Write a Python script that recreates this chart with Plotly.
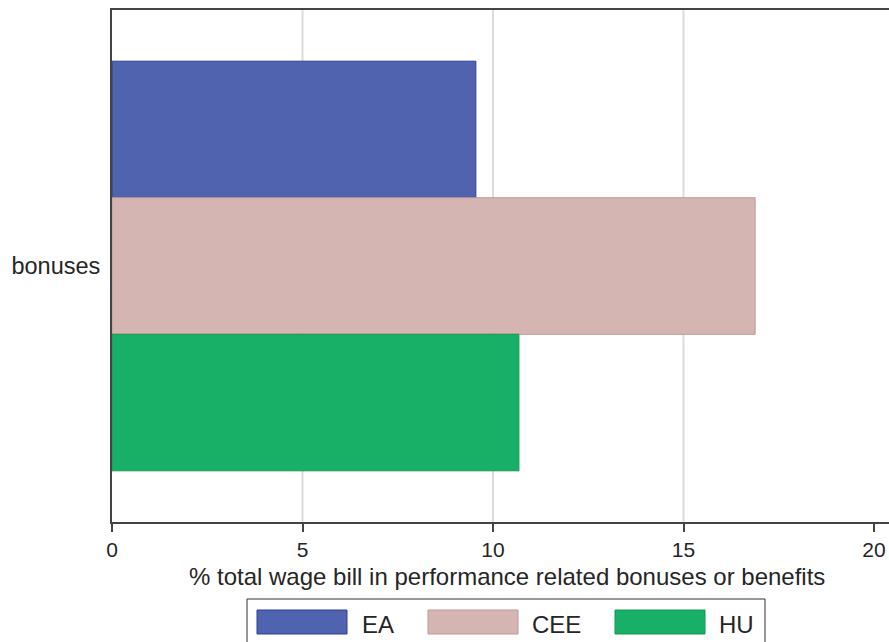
import plotly.graph_objects as go

categories = ["bonuses"]
series_names = ["EA", "CEE", "HU"]
ea_values = [9.55]
cee_values = [16.88]
hu_values = [10.68]
x_ticks = [0, 5, 10, 15, 20]
x_title = "% total wage bill in performance related bonuses or benefits"

fill_colors = ["#4f63ae", "#d5b5b2", "#18b066"]
line_colors = ["#2f3f9c", "#c29797", "#12994f"]

W, H = 889, 642
S_LEFT, S_TOP, S_BOTTOM, S_RIGHT = 112, 10, 522, 889
S_20 = 874
L = S_LEFT
T = S_TOP
B = H - S_BOTTOM
R = W - S_RIGHT
x_max = 20 * (S_RIGHT - S_LEFT) / (S_20 - S_LEFT)

fig = go.Figure()
for name, vals, fc, lc in zip(series_names, [ea_values, cee_values, hu_values], fill_colors, line_colors):
    fig.add_trace(go.Bar(
        y=categories, x=vals, name=name, orientation="h",
        marker=dict(color=fc, line=dict(color=lc, width=1)),
        showlegend=False,
    ))

FONT = "Arial, Liberation Sans, sans-serif"
TXT = "#262626"

shapes = []
for v in x_ticks[1:-1]:
    shapes.append(dict(type="line", xref="x", yref="paper", x0=v, x1=v, y0=0, y1=1,
                       line=dict(color="#dcdcdc", width=2), layer="below"))

def sx(px):
    return (px - S_LEFT) / (S_RIGHT - S_LEFT)

def sy(py):
    return (S_BOTTOM - py) / (S_BOTTOM - S_TOP)

annotations = [dict(xref="paper", yref="paper", x=sx(506.5), y=sy(576.5),
                    xanchor="center", yanchor="middle", text=x_title, showarrow=False,
                    font=dict(family=FONT, size=24, color=TXT))]

shapes.append(dict(type="rect", xref="paper", yref="paper",
                   x0=sx(247), x1=sx(765), y0=sy(660), y1=sy(599),
                   line=dict(color="#333333", width=1), fillcolor="white"))
sw_left = [257, 428, 615]
txt_left = [360, 530, 717]
for i, name in enumerate(series_names):
    shapes.append(dict(type="rect", xref="paper", yref="paper",
                       x0=sx(sw_left[i]), x1=sx(sw_left[i] + 90),
                       y0=sy(634), y1=sy(610),
                       line=dict(color=line_colors[i], width=1), fillcolor=fill_colors[i]))
    annotations.append(dict(xref="paper", yref="paper", x=sx(txt_left[i]),
                            y=sy(624.5), xanchor="left", yanchor="middle",
                            text=name, showarrow=False,
                            font=dict(family=FONT, size=24, color=TXT)))

fig.update_layout(
    width=W, height=H,
    margin=dict(l=L, r=R, t=T, b=B),
    paper_bgcolor="white", plot_bgcolor="white",
    barmode="group", bargap=0.2,
    font=dict(family=FONT, size=24, color=TXT),
    shapes=shapes, annotations=annotations,
    xaxis=dict(range=[0, x_max], tickvals=x_ticks, ticktext=[str(t) for t in x_ticks],
               showgrid=False, zeroline=False,
               showline=True, mirror=True, linecolor="#444444", linewidth=2,
               ticks="outside", ticklen=8, tickwidth=2, tickcolor="#444444",
               tickfont=dict(size=21, color=TXT)),
    yaxis=dict(autorange="reversed", showgrid=False, zeroline=False,
               showline=True, linecolor="#444444", linewidth=2, mirror=False,
               ticks="", ticklabelstandoff=5,
               tickfont=dict(size=23.5, color=TXT)),
)

fig.write_html("out.html", config={"displayModeBar": False},
               post_script="document.body.style.margin='0';document.body.style.overflow='hidden';")
